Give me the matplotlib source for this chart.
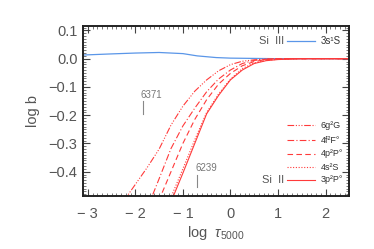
import matplotlib
matplotlib.use("Agg")
import matplotlib.pyplot as plt
from matplotlib.ticker import MultipleLocator, FixedLocator

plt.rcParams['font.family'] = ['Liberation Sans', 'DejaVu Sans']
plt.rcParams['mathtext.fontset'] = 'custom'
plt.rcParams['mathtext.rm'] = 'Liberation Sans'
plt.rcParams['mathtext.it'] = 'Liberation Sans:italic'

# log tau5000 grid
tau = [-2.5, -2.25, -2.0, -1.75, -1.5, -1.25, -1.0, -0.75, -0.5, -0.25,
       0.0, 0.25, 0.5, 0.75, 1.0, 1.5, 2.0, 2.5]

# Si III 3s1S
si3_tau = [-3.1, -2.5, -2.0, -1.5, -1.0, -0.7, -0.3, 0.0, 0.5, 1.0, 2.5]
si3_b = [0.013, 0.017, 0.020, 0.022, 0.018, 0.010, 0.004, 0.002, 0.001, 0.0, 0.0]

# Si II levels
b_6g = [-0.56, -0.505, -0.445, -0.385, -0.32, -0.235, -0.168, -0.115, -0.075, -0.043,
        -0.021, -0.009, -0.004, -0.001, 0.0, 0.0, 0.0, 0.0]
b_4f = [-0.75, -0.70, -0.64, -0.53, -0.425, -0.318, -0.238, -0.175, -0.117, -0.072,
        -0.040, -0.017, -0.006, -0.002, 0.0, 0.0, 0.0, 0.0]
b_4p = [-0.80, -0.75, -0.70, -0.60, -0.50, -0.40, -0.30, -0.215, -0.145, -0.09,
        -0.052, -0.025, -0.010, -0.003, -0.001, 0.0, 0.0, 0.0]
b_4s = [-0.90, -0.85, -0.80, -0.70, -0.60, -0.49, -0.39, -0.287, -0.19, -0.125,
        -0.072, -0.035, -0.015, -0.006, -0.002, 0.0, 0.0, 0.0]
b_3p = [-0.90, -0.85, -0.80, -0.72, -0.62, -0.507, -0.405, -0.30, -0.195, -0.13,
        -0.075, -0.040, -0.017, -0.007, -0.003, 0.0, 0.0, 0.0]

labels = ['6g²G', '4f²F°', '4p²P°', '4s²S', '3p²P°']
curves = [b_6g, b_4f, b_4p, b_4s, b_3p]
styles = [(0, (6, 1.5, 1, 1.5, 1, 1.5, 1, 1.5)), (0, (6, 2, 1, 2)), (0, (5, 3)),
          (0, (1, 1.5)), '-']

red = '#ff3a3a'
blue = '#5a96e8'
gray = '#555555'

fig = plt.figure(figsize=(3.74, 2.49), dpi=100)
ax = fig.add_axes([0.222, 0.214, 0.712, 0.683])

ax.plot(si3_tau, si3_b, color=blue, lw=0.9)
for y, ls in zip(curves, styles):
    ax.plot(tau, y, color=red, lw=0.8, ls=ls)

ax.set_xlim(-3.1, 2.5)
ax.set_ylim(-0.485, 0.117)

ax.xaxis.set_major_locator(FixedLocator([-3, -2, -1, 0, 1, 2]))
ax.xaxis.set_minor_locator(MultipleLocator(0.1))
ax.yaxis.set_major_locator(FixedLocator([-0.4, -0.3, -0.2, -0.1, 0.0, 0.1]))
ax.yaxis.set_minor_locator(MultipleLocator(0.01))
ax.set_xticklabels(['\u2212 3', '\u2212 2', '\u2212 1', '0', '1', '2'])
ax.set_yticklabels(['\u22120.4', '\u22120.3', '\u22120.2', '\u22120.1', '0.0', '0.1'])

ax.tick_params(which='both', direction='in', top=True, right=True, color='#444444',
               labelsize=10.5, labelcolor=gray)
ax.tick_params(which='major', length=5, width=0.8)
ax.tick_params(which='minor', length=2.5, width=0.5)
ax.tick_params(axis='y', which='major', pad=4)
ax.tick_params(axis='x', which='major', pad=8)
for s in ax.spines.values():
    s.set_linewidth(1.4)
    s.set_color('#222222')

ax.set_ylabel('log b', fontsize=10.5, color=gray, labelpad=6)
ax.set_xlabel(r'log  $\tau_{\mathrm{5000}}$', fontsize=10.5, color=gray, labelpad=2)

# line markers
ax.plot([-1.84, -1.84], [-0.148, -0.195], color='#888888', lw=0.8)
ax.text(-1.9, -0.128, '6371', fontsize=7, color='#777777', va='center', ha='left')
ax.plot([-0.705, -0.705], [-0.411, -0.455], color='#888888', lw=0.8)
ax.text(-0.74, -0.388, '6239', fontsize=7, color='#777777', va='center', ha='left')

# legend
ax.text(1.12, 0.062, 'Si  III', fontsize=8, color=gray, ha='right', va='center')
ax.plot([1.18, 1.77], [0.062, 0.062], color=blue, lw=0.9)
ax.text(1.9, 0.062, '3s¹S', fontsize=7, color='#333333', ha='left', va='center')

rows = [-0.236, -0.288, -0.337, -0.384, -0.429]
for yy, lab, ls in zip(rows, labels, styles):
    ax.plot([1.18, 1.77], [yy, yy], color=red, lw=0.8, ls=ls)
    ax.text(1.9, yy, lab, fontsize=6.5, color='#333333', ha='left', va='center')
ax.text(1.12, rows[-1], 'Si  II', fontsize=8, color=gray, ha='right', va='center')

fig.savefig('out.png', dpi=100)
